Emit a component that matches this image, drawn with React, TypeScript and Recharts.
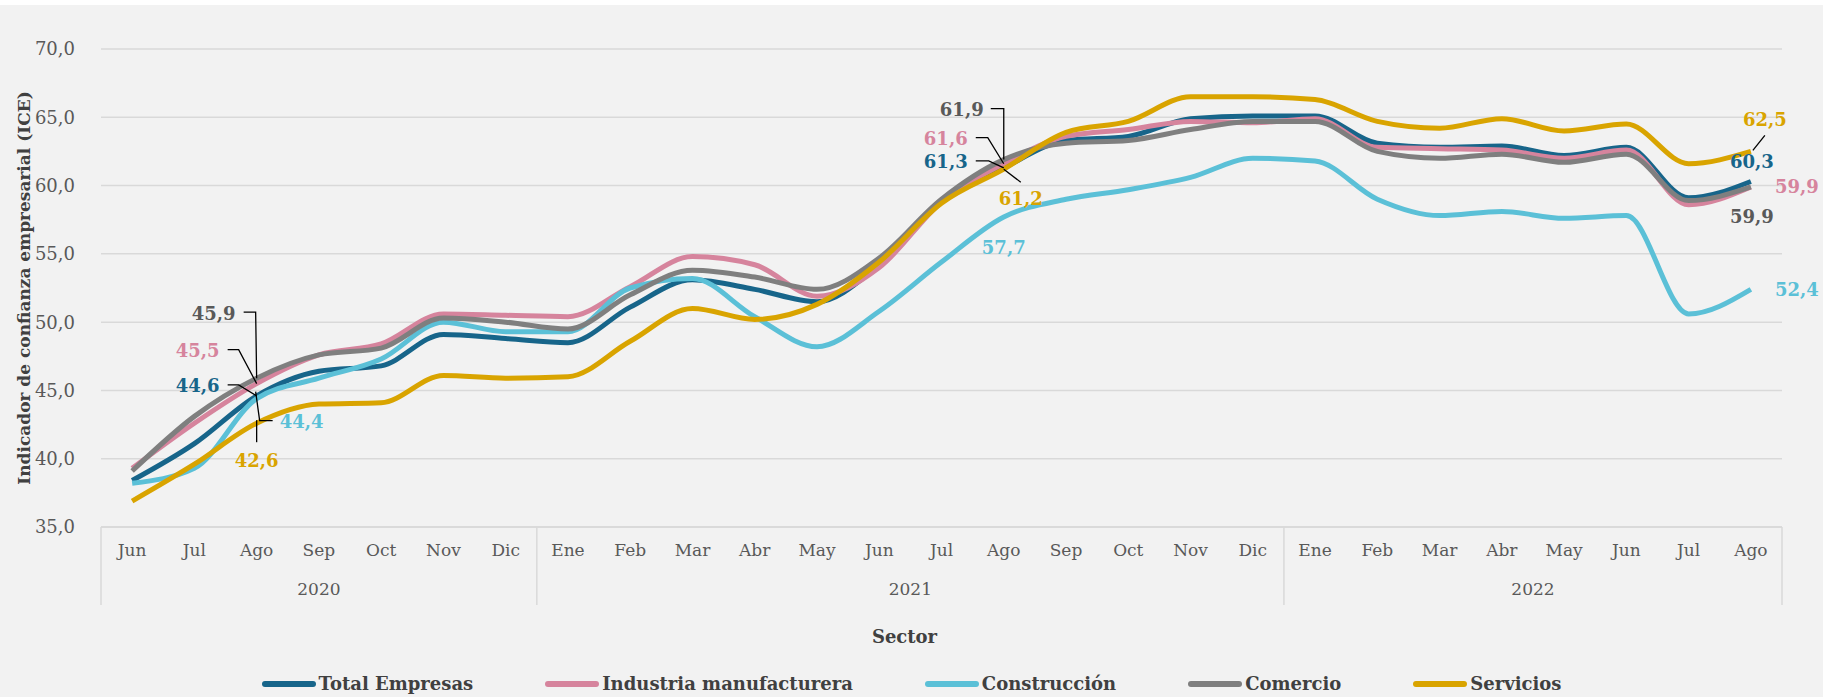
import React from "react";
import {
  LineChart,
  Line,
  XAxis,
  YAxis,
  CartesianGrid,
  LabelList,
  Legend,
} from "recharts";

const years = ["2020", "2021", "2022"];
const yearMonths = [
  ["Jun", "Jul", "Ago", "Sep", "Oct", "Nov", "Dic"],
  ["Ene", "Feb", "Mar", "Abr", "May", "Jun", "Jul", "Ago", "Sep", "Oct", "Nov", "Dic"],
  ["Ene", "Feb", "Mar", "Abr", "May", "Jun", "Jul", "Ago"],
];

const totalEmpresas = [
  38.4, 41.1, 44.6, 46.4, 46.8, 49.1, 48.8,
  48.5, 51.1, 53.1, 52.4, 51.5, 54.2, 58.8, 61.3, 63.3, 63.6, 64.9, 65.1,
  65.1, 63.1, 62.8, 62.9, 62.2, 62.8, 59.1, 60.3,
];
const industria = [
  39.3, 42.6, 45.5, 47.6, 48.4, 50.6, 50.5,
  50.4, 52.6, 54.8, 54.2, 51.9, 54.0, 58.8, 61.6, 63.6, 64.1, 64.7, 64.6,
  64.9, 62.8, 62.7, 62.6, 62.0, 62.6, 58.6, 59.9,
];
const construccion = [
  38.2, 39.3, 44.4, 45.9, 47.3, 50.0, 49.3,
  49.3, 52.5, 53.2, 50.4, 48.2, 50.8, 54.4, 57.7, 59.0, 59.7, 60.6, 62.0,
  61.8, 59.0, 57.8, 58.1, 57.6, 57.8, 50.6, 52.4,
];
const comercio = [
  39.1, 43.1, 45.9, 47.6, 48.1, 50.3, 50.0,
  49.5, 52.0, 53.8, 53.3, 52.4, 54.7, 59.0, 61.9, 63.1, 63.3, 64.1, 64.7,
  64.7, 62.5, 62.0, 62.3, 61.7, 62.3, 58.9, 59.9,
];
const servicios = [
  36.9, 39.6, 42.6, 44.0, 44.1, 46.1, 45.9,
  46.0, 48.6, 51.0, 50.2, 51.3, 54.4, 58.7, 61.2, 63.9, 64.7, 66.5, 66.5,
  66.3, 64.7, 64.2, 64.9, 64.0, 64.5, 61.6, 62.5,
];

const yTicks = [35, 40, 45, 50, 55, 60, 65, 70];

const series = [
  { key: "total", name: "Total Empresas", values: totalEmpresas, color: "#17658a", text: "#17658a" },
  { key: "industria", name: "Industria manufacturera", values: industria, color: "#d6849d", text: "#d6849d" },
  { key: "construccion", name: "Construcción", values: construccion, color: "#5bc0d7", text: "#5bc0d7" },
  { key: "comercio", name: "Comercio", values: comercio, color: "#7f7f7f", text: "#595959" },
  { key: "servicios", name: "Servicios", values: servicios, color: "#d9a400", text: "#d9a400" },
];

const categories = years.flatMap((yr, gi) =>
  yearMonths[gi].map((m, mi) => ({ key: `${yr}-${m}`, month: m, group: gi, pos: mi, size: yearMonths[gi].length }))
);

const data = categories.map((c, i) => {
  const row: Record<string, any> = { key: c.key };
  series.forEach((s) => (row[s.key] = s.values[i]));
  return row;
});

// label placement (offsets from the point) and leader lines, per series / index
const labelSpecs: Record<string, Record<number, { dx: number; dy: number; leader?: number[][] }>> = {
  total: {
    2: { dx: -59, dy: -10, leader: [[-29, -11], [-18, -11], [0, 0]] },
    14: { dx: -58, dy: -6, leader: [[-28, -7], [-15, -7], [0, 0]] },
    26: { dx: 1, dy: -20 },
  },
  industria: {
    2: { dx: -59, dy: -33, leader: [[-29, -34], [-18, -34], [0, 0]] },
    14: { dx: -58, dy: -25, leader: [[-28, -26], [-16, -26], [0, 0]] },
    26: { dx: 46, dy: 0 },
  },
  construccion: {
    2: { dx: 45, dy: 23, leader: [[-1, -7], [3, 22], [16, 22]] },
    14: { dx: 0, dy: 31 },
    26: { dx: 46, dy: 0 },
  },
  comercio: {
    2: { dx: -43, dy: -65, leader: [[-13, -66], [-1, -66], [0, 0]] },
    14: { dx: -42, dy: -50, leader: [[-13, -51], [0, -51], [0, 0]] },
    26: { dx: 1, dy: 30 },
  },
  servicios: {
    2: { dx: 0, dy: 37, leader: [[0, -3], [0, 19]] },
    14: { dx: 17, dy: 29, leader: [[0, 0], [17, 13]] },
    26: { dx: 14, dy: -32, leader: [[14, -16], [2, -1]] },
  },
};

const FONT = "'DejaVu Serif', serif";
const fmt = (v: number) => v.toFixed(1).replace(".", ",");

const makeLabel = (sKey: string, color: string) => (props: any) => {
  const { x, y, index, value } = props;
  const spec = labelSpecs[sKey]?.[index];
  if (!spec || x == null || y == null) return null;
  return (
    <g>
      {spec.leader && (
        <polyline
          points={spec.leader.map(([a, b]) => `${x + a},${y + b}`).join(" ")}
          fill="none"
          stroke="#000"
          strokeWidth={1.3}
        />
      )}
      <text
        x={x + spec.dx}
        y={y + spec.dy}
        textAnchor="middle"
        dominantBaseline="central"
        fontFamily={FONT}
        fontWeight="bold"
        fontSize={18}
        fill={color}
      >
        {fmt(value)}
      </text>
    </g>
  );
};

const CategoryTick = (props: any) => {
  const { x, y, index } = props;
  const half = props.payload?.offset || 1681 / 27 / 2;
  const c = categories[index];
  if (!c) return null;
  const lines: number[] = [];
  if (c.pos === 0) lines.push(x - half);
  if (index === categories.length - 1) lines.push(x + half);
  let yearX: number | null = null;
  if (c.pos === Math.floor((c.size - 1) / 2)) {
    yearX = c.size % 2 === 1 ? x : x + half;
  }
  return (
    <g>
      {lines.map((lx, i) => (
        <line key={i} x1={lx} x2={lx} y1={y} y2={y + 78} stroke="#d9d9d9" strokeWidth={1.5} />
      ))}
      <text x={x} y={y + 29} textAnchor="middle" fontFamily={FONT} fontSize={17} fill="#595959">
        {c.month}
      </text>
      {yearX !== null && (
        <text x={yearX} y={y + 68} textAnchor="middle" fontFamily={FONT} fontSize={17} fill="#595959">
          {years[c.group]}
        </text>
      )}
    </g>
  );
};

const LegendContent = () => (
  <div
    style={{
      display: "flex",
      justifyContent: "center",
      gap: 72,
      fontFamily: FONT,
      fontWeight: "bold",
      fontSize: 18,
      color: "#404040",
    }}
  >
    {series.map((s) => (
      <div key={s.key} style={{ display: "flex", alignItems: "center" }}>
        <span
          style={{
            display: "inline-block",
            width: 54,
            height: 6,
            borderRadius: 3,
            background: s.color,
            marginRight: 3,
          }}
        />
        <span>{s.name}</span>
      </div>
    ))}
  </div>
);

export default function App() {
  return (
    <div
      style={{
        position: "fixed",
        left: 0,
        top: 0,
        width: 1823,
        height: 697,
        background: "#ffffff",
        overflow: "hidden",
      }}
    >
      <div style={{ position: "absolute", left: 0, top: 5, width: 1823, height: 692, background: "#f2f2f2" }} />
      <div style={{ position: "absolute", left: 0, top: 0 }}>
        <LineChart
          width={1823}
          height={697}
          data={data}
          margin={{ top: 49, right: 41, bottom: 90, left: 0 }}
        >
          <CartesianGrid vertical={false} stroke="#d9d9d9" strokeWidth={1.5} />
          <XAxis
            dataKey="key"
            scale="band"
            interval={0}
            height={80}
            tickSize={0}
            tickMargin={0}
            tickLine={false}
            axisLine={{ stroke: "#d9d9d9", strokeWidth: 1.5 }}
            tick={<CategoryTick />}
            label={{
              content: (p: any) => {
                const vb = p.viewBox || { x: 101, y: 527, width: 1681 };
                return (
                  <text
                    x={vb.x + vb.width / 2 - 37}
                    y={vb.y + 116}
                    textAnchor="middle"
                    fontFamily={FONT}
                    fontWeight="bold"
                    fontSize={18}
                    fill="#404040"
                  >
                    Sector
                  </text>
                );
              },
            }}
          />
          <YAxis
            width={101}
            domain={[35, 70]}
            ticks={yTicks}
            tickFormatter={fmt}
            tickLine={false}
            axisLine={false}
            tickMargin={20}
            tick={{ fontFamily: FONT, fontSize: 18, fill: "#595959" }}
            label={{
              content: (p: any) => {
                const vb = p.viewBox || { x: 0, y: 49, height: 478 };
                const cx = 24;
                const cy = vb.y + vb.height / 2;
                return (
                  <text
                    x={cx}
                    y={cy}
                    transform={`rotate(-90, ${cx}, ${cy})`}
                    textAnchor="middle"
                    dominantBaseline="central"
                    fontFamily={FONT}
                    fontWeight="bold"
                    fontSize={17}
                    fill="#404040"
                  >
                    Indicador de confianza empresarial (ICE)
                  </text>
                );
              },
            }}
          />
          <Legend
            verticalAlign="middle"
            layout="horizontal"
            content={<LegendContent />}
            wrapperStyle={{ position: "absolute", top: 673, left: 0, width: 1823 }}
          />
          {series.map((s) => (
            <Line
              key={s.key}
              type="monotone"
              dataKey={s.key}
              name={s.name}
              stroke={s.color}
              strokeWidth={5}
              dot={false}
              activeDot={false}
              isAnimationActive={false}
            >
              <LabelList dataKey={s.key} content={makeLabel(s.key, s.text)} />
            </Line>
          ))}
        </LineChart>
      </div>
    </div>
  );
}
